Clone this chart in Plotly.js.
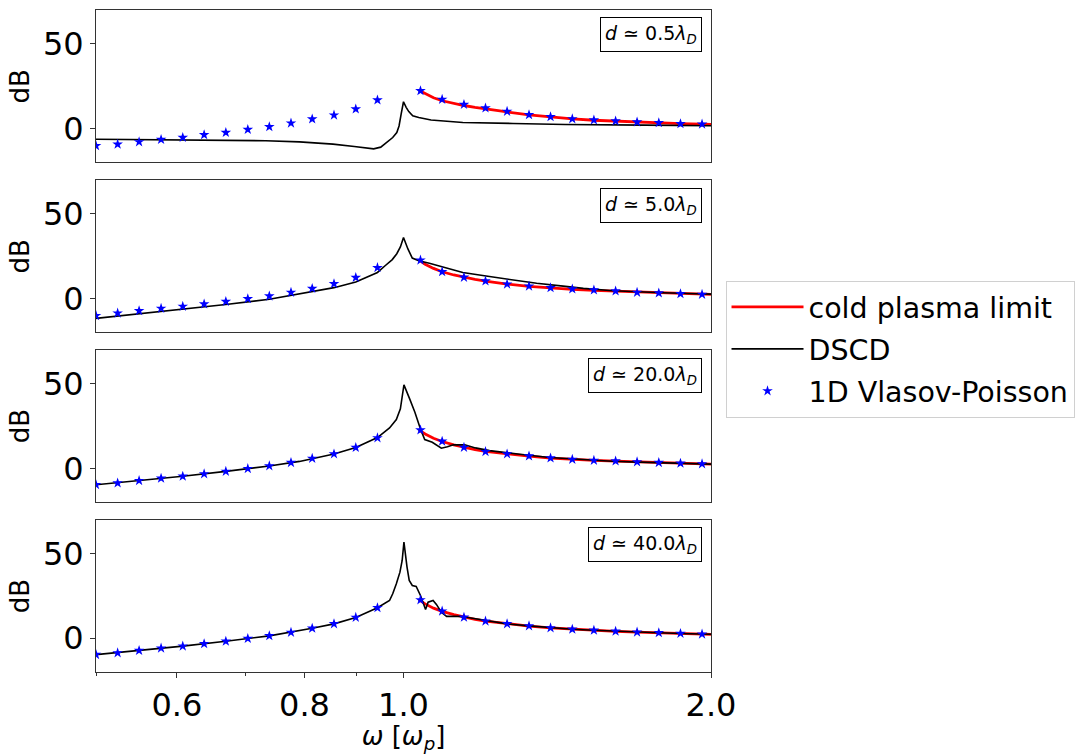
<!DOCTYPE html>
<html>
<head>
<meta charset="utf-8">
<script src="https://cdn.plot.ly/plotly-3.0.1.min.js"></script>
<style>html,body{margin:0;padding:0;background:#fff;}#chart{width:1086px;height:754px;}</style>
</head>
<body>
<div id="chart"></div>
<script>
// ---------- data ----------
const panelLabels = ['0.5', '5.0', '20.0', '40.0'];
const seriesNames = ['cold plasma limit', 'DSCD', '1D Vlasov-Poisson'];
const xTickVals = [0.6, 0.8, 1.0, 2.0];
const xTickText = ['0.6', '0.8', '1.0', '2.0'];
const xMinorVals = [0.5, 0.7, 0.9];
const yTickVals = [0, 50];

// 1D Vlasov-Poisson (stars), frequency in units of omega_p
const vpX = [0.500, 0.525, 0.551, 0.579, 0.608, 0.638, 0.670, 0.704, 0.739, 0.776, 0.814, 0.855, 0.898, 0.943,
             1.039, 1.091, 1.146, 1.203, 1.263, 1.327, 1.393, 1.463, 1.536, 1.613, 1.693, 1.778, 1.867, 1.960];
const vpY1 = [-10.2, -9.3, -7.9, -6.5, -5.3, -3.7, -2.4, -0.6, 1.0, 3.2, 5.6, 7.9, 11.5, 16.8,
              22.3, 17.2, 14.2, 12.1, 10.1, 8.1, 6.9, 5.7, 5.0, 4.4, 3.8, 3.4, 2.8, 2.6];
const vpY2 = [-10.2, -8.7, -7.3, -5.9, -4.7, -3.3, -1.8, -0.2, 1.4, 3.6, 5.9, 8.7, 12.4, 18.2,
              22.7, 15.8, 12.5, 10.3, 8.5, 7.3, 6.3, 5.6, 5.0, 4.4, 3.6, 3.2, 2.8, 2.4];
const vpY3 = [-9.7, -8.7, -7.3, -5.9, -4.7, -3.3, -1.8, -0.2, 1.4, 3.4, 5.9, 8.5, 12.3, 18.0,
              22.7, 16.0, 12.4, 9.9, 8.5, 7.3, 6.1, 5.3, 4.7, 4.3, 3.8, 3.4, 3.0, 2.6];
const vpY4 = [-9.7, -8.7, -7.3, -5.9, -4.7, -3.3, -1.8, -0.2, 1.4, 3.4, 5.9, 8.5, 12.3, 18.0,
              22.7, 16.0, 12.4, 10.1, 8.5, 7.3, 6.1, 5.3, 4.7, 4.1, 3.6, 3.2, 2.8, 2.4];

// cold plasma limit (red)
const coldX = [1.035, 1.05, 1.07, 1.091, 1.12, 1.146, 1.175, 1.203, 1.263, 1.327, 1.393, 1.463, 1.536, 1.613, 1.693, 1.778, 1.867, 1.96, 2.0];
const coldY1 = [22.6, 20.5, 18.2, 16.4, 14.8, 13.6, 12.5, 11.5, 9.8, 8.0, 6.8, 5.7, 4.9, 4.3, 3.7, 3.3, 2.9, 2.6, 2.5];
const coldY2 = [22.8, 20.3, 17.8, 15.8, 13.9, 12.5, 11.3, 10.3, 8.5, 7.2, 6.2, 5.4, 4.8, 4.3, 3.7, 3.3, 2.8, 2.5, 2.4];
const coldY3 = [22.8, 20.3, 17.8, 15.9, 13.9, 12.4, 11.1, 10.0, 8.5, 7.2, 6.1, 5.3, 4.7, 4.3, 3.8, 3.4, 3.0, 2.6, 2.5];
const coldY4 = [22.8, 20.3, 17.8, 15.9, 13.9, 12.4, 11.2, 10.1, 8.5, 7.2, 6.1, 5.3, 4.7, 4.1, 3.6, 3.2, 2.8, 2.4, 2.3];

// DSCD (black)
const dscdX1 = [0.5, 0.632, 0.733, 0.791, 0.853, 0.895, 0.918, 0.935, 0.95, 0.963, 0.976, 0.985, 0.99, 0.995, 1.0,
                1.006, 1.012, 1.021, 1.035, 1.064, 1.10, 1.143, 1.28, 1.44, 1.72, 2.0];
const dscdY1 = [-6.3, -6.6, -7.2, -7.9, -9.2, -10.6, -11.6, -12.0, -11.0, -8.3, -5.3, -2.4, 1.5, 9.0, 15.8,
                12.5, 10.0, 7.5, 6.5, 5.0, 4.2, 3.6, 3.0, 2.4, 2.0, 1.6];
const dscdX2 = [0.5, 0.551, 0.608, 0.670, 0.739, 0.814, 0.855, 0.898, 0.943, 0.96, 0.975, 0.985, 0.993, 1.0,
                1.010, 1.02, 1.035, 1.06, 1.091, 1.143, 1.2, 1.28, 1.35, 1.433, 1.5, 1.603, 1.7, 1.794, 1.9, 2.0];
const dscdY2 = [-11.8, -9.1, -6.4, -3.6, -0.5, 3.9, 6.4, 9.8, 15.4, 19.5, 23.0, 26.5, 30.5, 36.1,
                29.3, 23.9, 22.3, 20.8, 18.6, 15.4, 13.4, 10.9, 9.0, 7.3, 6.0, 4.6, 3.8, 3.4, 2.9, 2.6];
const dscdX3 = [0.5, 0.551, 0.608, 0.670, 0.739, 0.791, 0.815, 0.855, 0.898, 0.943, 0.969, 0.984, 0.993, 1.001,
                1.014, 1.026, 1.039, 1.049, 1.067, 1.089, 1.104, 1.119, 1.148, 1.176, 1.214, 1.242, 1.30, 1.39, 1.5, 1.6, 1.7, 1.8, 1.9, 2.0];
const dscdY3 = [-9.7, -7.3, -4.7, -1.8, 1.4, 4.1, 5.9, 8.5, 12.3, 18.2, 23.9, 28.9, 35.2, 49.4,
                41.1, 33.2, 23.3, 17.0, 15.4, 11.9, 12.8, 13.9, 13.9, 12.1, 10.5, 9.7, 8.3, 6.4, 5.0, 4.2, 3.7, 3.2, 2.8, 2.5];
const dscdX4 = [0.5, 0.551, 0.608, 0.670, 0.739, 0.814, 0.855, 0.898, 0.943, 0.969, 0.976, 0.984, 0.992, 0.997, 1.001,
                1.008, 1.013, 1.020, 1.029, 1.039, 1.045, 1.051, 1.057, 1.069, 1.077, 1.089, 1.102, 1.135, 1.152,
                1.205, 1.263, 1.327, 1.393, 1.463, 1.536, 1.613, 1.693, 1.778, 1.867, 1.96, 2.0];
const dscdY4 = [-9.7, -7.3, -4.7, -1.8, 1.4, 5.9, 8.5, 12.3, 18.0, 22.3, 26.3, 32.2, 39.1, 46.0, 56.9,
                42.1, 34.2, 31.2, 30.6, 25.3, 20.7, 17.0, 21.3, 22.3, 20.0, 15.4, 12.9, 12.9, 12.4,
                10.3, 8.5, 7.3, 6.1, 5.3, 4.7, 4.1, 3.6, 3.2, 2.8, 2.4, 2.3];

// ---------- build ----------
const FONT = 'DejaVu Sans, sans-serif';
const panels = [
  {vpY: vpY1, coldY: coldY1, dX: dscdX1, dY: dscdY1},
  {vpY: vpY2, coldY: coldY2, dX: dscdX2, dY: dscdY2},
  {vpY: vpY3, coldY: coldY3, dX: dscdX3, dY: dscdY3},
  {vpY: vpY4, coldY: coldY4, dX: dscdX4, dY: dscdY4}
];
const domains = [[0.7698, 1.0], [0.5132, 0.7429], [0.2566, 0.4863], [0.0, 0.2297]];

const traces = [];
const layout = {
  width: 1086, height: 754,
  paper_bgcolor: '#fff', plot_bgcolor: '#fff',
  font: {family: FONT, color: '#000'},
  margin: {l: 96, r: 374.5, t: 9.5, b: 82, autoexpand: false},
  showlegend: true,
  legend: {
    x: 1.0236, xanchor: 'left', y: 0.4875, yanchor: 'middle',
    xref: 'paper', yref: 'paper',
    font: {family: FONT, size: 28.5, color: '#000'},
    bgcolor: '#fff', bordercolor: '#d0d0d0', borderwidth: 1,
    traceorder: 'grouped', tracegroupgap: 2, itemwidth: 72
  },
  annotations: []
};

panels.forEach((p, k) => {
  const n = k + 1;
  const xa = n === 1 ? 'x' : 'x' + n;
  const ya = n === 1 ? 'y' : 'y' + n;
  traces.push({
    type: 'scatter', mode: 'lines', x: coldX, y: p.coldY, xaxis: xa, yaxis: ya,
    line: {color: '#ff0000', width: 2.8}, name: seriesNames[0], legendgroup: 'g0', showlegend: k === 0
  });
  traces.push({
    type: 'scatter', mode: 'lines', x: p.dX, y: p.dY, xaxis: xa, yaxis: ya,
    line: {color: '#000000', width: 1.6}, name: seriesNames[1], legendgroup: 'g1', showlegend: k === 0
  });
  traces.push({
    type: 'scatter', mode: 'markers', x: vpX, y: p.vpY, xaxis: xa, yaxis: ya,
    marker: {symbol: 'star', size: 8, color: '#0000ff', line: {width: 0}},
    name: seriesNames[2], legendgroup: 'g2', showlegend: k === 0
  });

  const isBottom = n === 4;
  const xax = {
    type: 'log', range: [Math.log10(0.5), Math.log10(2.0)],
    domain: [0, 1], anchor: ya,
    showline: true, mirror: true, linecolor: '#333', linewidth: 1,
    showgrid: false, zeroline: false,
    showticklabels: isBottom, ticks: isBottom ? 'outside' : '',
    tickmode: 'array', tickvals: xTickVals, ticktext: xTickText,
    ticklen: 5, tickwidth: 1, tickcolor: '#333',
    tickfont: {family: FONT, size: 32, color: '#000'}
  };
  if (isBottom) {
    xax.minor = {tickmode: 'array', tickvals: xMinorVals, ticks: 'outside', ticklen: 3, tickwidth: 1, tickcolor: '#333', showgrid: false};
    xax.title = {text: '<i>ω</i> [<i>ω<sub>p</sub></i>]', font: {family: FONT, size: 26, color: '#000'}, standoff: 8};
  }
  if (n > 1) xax.matches = 'x';
  layout[n === 1 ? 'xaxis' : 'xaxis' + n] = xax;

  layout[n === 1 ? 'yaxis' : 'yaxis' + n] = {
    range: [-20, 70], domain: domains[k], anchor: xa,
    showline: true, mirror: true, linecolor: '#333', linewidth: 1,
    showgrid: false, zeroline: false,
    tickmode: 'array', tickvals: yTickVals, ticks: 'outside', ticklen: 5, tickwidth: 1, tickcolor: '#333',
    tickfont: {family: FONT, size: 32, color: '#000'},
    title: {text: 'dB', font: {family: FONT, size: 26, color: '#000'}, standoff: 5}
  };

  layout.annotations.push({
    xref: xa + ' domain', yref: ya + ' domain', x: 0.986, y: 0.951,
    xanchor: 'right', yanchor: 'top', showarrow: false,
    text: '<i>d</i> ≃ ' + panelLabels[k] + '<i>λ</i><sub><i>D</i></sub>',
    font: {family: FONT, size: 19, color: '#000'},
    bgcolor: '#fff', bordercolor: '#000', borderwidth: 1, borderpad: 4
  });
});

Plotly.newPlot('chart', traces, layout, {displayModeBar: false, staticPlot: true});
</script>
</body>
</html>
